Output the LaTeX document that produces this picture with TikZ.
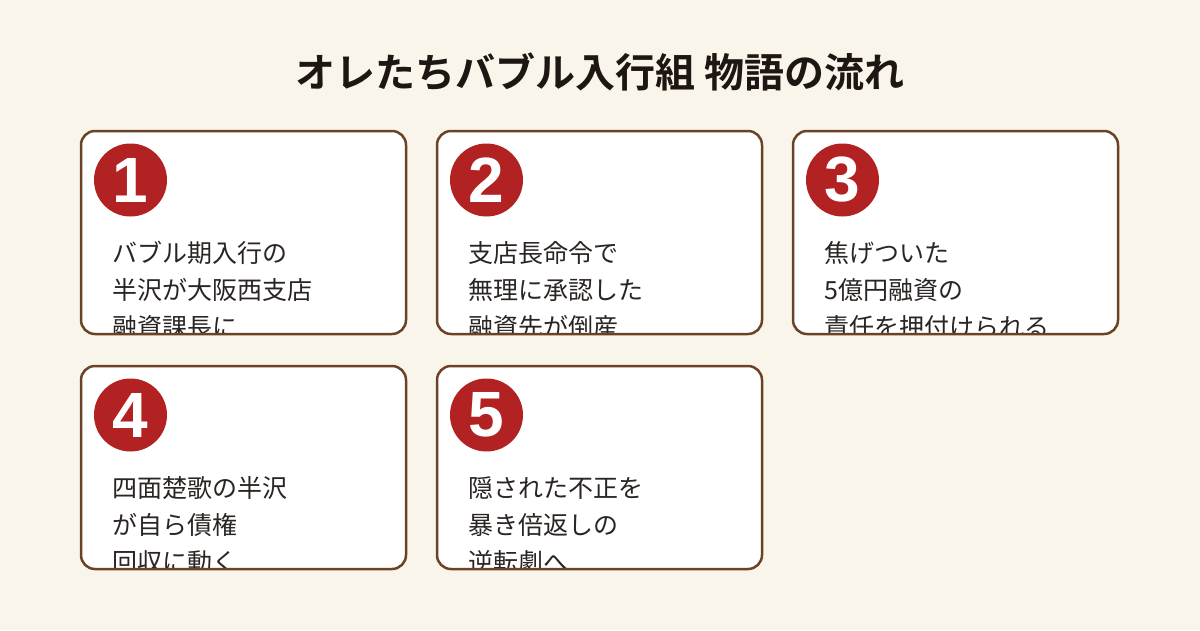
\documentclass[tikz,border=0pt]{standalone}
\usepackage{fontspec}
\setmainfont{Noto Sans CJK JP}[BoldFont={Noto Sans CJK JP Bold}]
\newfontfamily\badgefont{Liberation Sans}[BoldFont={Liberation Sans Bold}]
\usepackage{tikz}
\usetikzlibrary{positioning, calc}
\definecolor{paper}{HTML}{FAF5EA}
\definecolor{frame}{HTML}{6B4226}
\definecolor{badgered}{HTML}{B22222}
\definecolor{ink}{HTML}{2A2522}
\definecolor{titleink}{HTML}{1E1612}
\tikzstyle{card}=[rectangle, minimum width=325pt, minimum height=203pt,
                  inner sep=0pt, outer sep=0pt]
\tikzstyle{cardline}=[draw=frame, line width=2.5pt, rounded corners=14pt]
\tikzstyle{badge}=[circle, fill=badgered, minimum size=73pt, inner sep=0pt,
                   text=white, font=\badgefont\fontsize{64}{64}\selectfont\bfseries]
\tikzstyle{cardtext}=[anchor=north west, inner sep=0pt, align=left, text=ink,
                      font=\fontsize{25}{37}\selectfont]

\begin{document}
\begin{tikzpicture}[x=1pt, y=-1pt]
  \fill[paper] (0,0) rectangle (1200,630);
  \useasboundingbox (0,0) rectangle (1200,630);
  \node[font=\fontsize{40}{40}\selectfont\bfseries, text=titleink, inner sep=0pt]
    (title) at (600,72) {オレたちバブル入行組 物語の流れ};
  % five story cards
  \foreach \n/\cx/\cy/\txt in {
      1/243.5/232.5/{バブル期入行の\\半沢が大阪西支店\\融資課長に},
      2/599.5/232.5/{支店長命令で\\無理に承認した\\融資先が倒産},
      3/955.5/232.5/{焦げついた\\5億円融資の\\責任を押付けられる},
      4/243.5/467.5/{四面楚歌の半沢\\が自ら債権\\回収に動く},
      5/599.5/467.5/{隠された不正を\\暴き倍返しの\\逆転劇へ}} {
    \fill[white, rounded corners=14pt] (\cx-162.5,\cy-101.5) rectangle (\cx+162.5,\cy+101.5);
    \node[card] (card\n) at (\cx,\cy) {};
    \begin{scope}
      \clip (card\n.south west) rectangle (card\n.north east);
      \node[cardtext] (text\n) at ([shift={(31,110)}]card\n.north west) {\txt};
    \end{scope}
    \draw[cardline] (card\n.south west) rectangle (card\n.north east);
    \node[badge] (badge\n) at ([shift={(49.5,49)}]card\n.north west) {\n};
  }
\end{tikzpicture}
\end{document}
